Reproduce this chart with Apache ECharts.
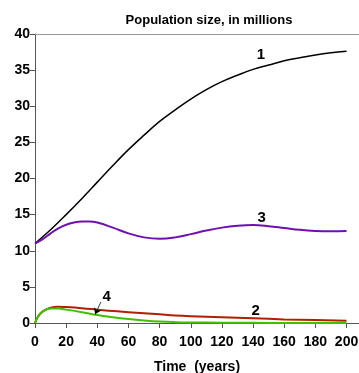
<!DOCTYPE html>
<html><head><meta charset="utf-8">
<script src="https://cdn.jsdelivr.net/npm/echarts@6/dist/echarts.min.js"></script>
<style>html,body{margin:0;padding:0;background:#fff}#c{width:359px;height:373px}</style>
</head><body><div id="c"></div>
<script>
const title = 'Population size, in millions';
const xTitle = 'Time  (years)';
const xTicks = [0,20,40,60,80,100,120,140,160,180,200];
const yTicks = [0,5,10,15,20,25,30,35,40];

const t1 = [0,10,20,30,40,50,60,70,80,90,100,110,120,130,140,150,160,170,180,190,200];
const s1 = [11,12.9,15.0,17.2,19.5,21.8,24.0,26.0,27.9,29.5,31.0,32.3,33.4,34.3,35.1,35.7,36.3,36.7,37.1,37.4,37.6];

const t3 = [0,5,10,15,20,25,30,35,40,50,60,70,80,90,100,110,120,130,140,150,160,170,180,190,200];
const s3 = [11,11.6,12.4,13.1,13.6,13.9,14.05,14.05,13.9,13.2,12.4,11.85,11.65,11.85,12.3,12.8,13.2,13.45,13.55,13.4,13.15,12.9,12.75,12.7,12.75];

const t2 = [0,2,5,10,15,20,30,40,50,60,70,80,90,100,120,140,160,180,200];
const s2 = [0,0.9,1.6,2.1,2.25,2.2,2.05,1.85,1.65,1.5,1.35,1.2,1.05,0.95,0.8,0.65,0.5,0.4,0.3];

const t4 = [0,2,5,10,15,20,30,40,50,60,70,80,90,100,120,140,160,180,200];
const s4 = [0,0.9,1.6,2.0,2.0,1.85,1.5,1.1,0.8,0.55,0.35,0.2,0.12,0.08,0.04,0.02,0.01,0.0,0.0];

const pairs = (t, v) => t.map((x, i) => [x, v[i]]);
const lbl = {fontFamily: 'Liberation Sans', fontWeight: 'bold', fontSize: 15, color: '#000'};
const mp = (name, x, y) => ({symbol: 'circle', symbolSize: 1, silent: true,
  itemStyle: {color: 'rgba(0,0,0,0)'},
  data: [{coord: [x, y], value: name}],
  label: Object.assign({show: true, position: 'inside', formatter: name}, lbl)});

const chart = echarts.init(document.getElementById('c'), null, {renderer: 'canvas'});
chart.setOption({
  animation: false,
  title: {text: title, left: 204, top: 9, textAlign: 'center',
    textStyle: {fontFamily: 'Liberation Sans', fontWeight: 'bold', fontSize: 13, color: '#000'}},
  grid: {left: 35, top: 34, right: 0, bottom: 50, containLabel: false, outerBoundsMode: 'none'},
  xAxis: [{
    type: 'value', min: 0, max: 208, interval: 20,
    name: xTitle, nameLocation: 'middle', nameGap: 37,
    nameTextStyle: {fontFamily: 'Liberation Sans', fontWeight: 'bold', fontSize: 14, color: '#000'},
    axisLine: {lineStyle: {color: '#555', width: 1}},
    axisTick: {show: true, length: 5, lineStyle: {color: '#555'}},
    axisLabel: {showMaxLabel: false, margin: 12, fontFamily: 'Liberation Sans', fontWeight: 'bold', fontSize: 14, color: '#000'},
    splitLine: {show: false}
  }, {
    type: 'value', position: 'top', min: 0, max: 208,
    axisLine: {show: true, lineStyle: {color: '#999', width: 1}},
    axisTick: {show: false}, axisLabel: {show: false}, splitLine: {show: false}
  }],
  yAxis: {
    type: 'value', min: 0, max: 40, interval: 5,
    axisLine: {show: true, lineStyle: {color: '#555', width: 1}},
    axisTick: {show: true, length: 5, lineStyle: {color: '#555'}},
    axisLabel: {margin: 5, fontFamily: 'Liberation Sans', fontWeight: 'bold', fontSize: 14, color: '#000'},
    splitLine: {show: false}
  },
  series: [
    {type: 'line', data: pairs(t1, s1), smooth: 0.4, showSymbol: false,
      lineStyle: {color: '#000', width: 1.5}, markPoint: mp('1', 145, 37.1)},
    {type: 'line', data: pairs(t3, s3), smooth: 0.4, showSymbol: false,
      lineStyle: {color: '#7010b0', width: 2}, markPoint: mp('3', 145.5, 14.6)},
    {type: 'line', data: pairs(t2, s2), smooth: 0.4, showSymbol: false,
      lineStyle: {color: '#b02000', width: 2}, markPoint: mp('2', 141.7, 1.7)},
    {type: 'line', data: pairs(t4, s4), smooth: 0.4, showSymbol: false,
      lineStyle: {color: '#40c000', width: 2}, markPoint: mp('4', 46, 3.6),
      markLine: {silent: true, symbol: ['none', 'arrow'], symbolSize: 6,
        lineStyle: {color: '#000', width: 0.8, type: 'solid'}, label: {show: false},
        data: [[{coord: [42.3, 2.9]}, {coord: [38.6, 1.2]}]]}}
  ]
});
</script></body></html>
